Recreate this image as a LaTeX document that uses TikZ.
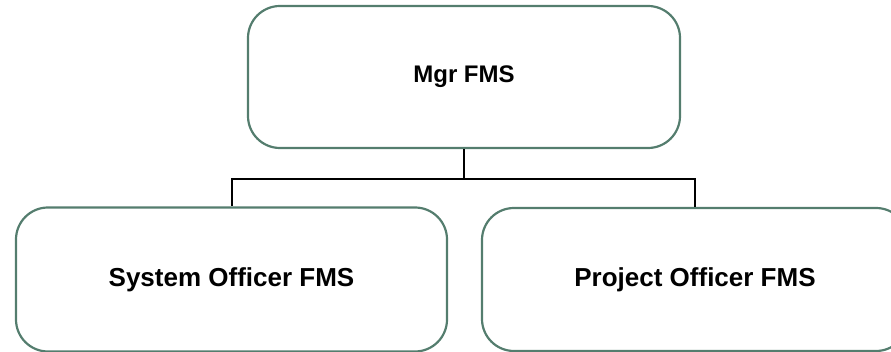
\documentclass[tikz,border=0pt]{standalone}
\usepackage{fontspec}
\setmainfont{Liberation Sans}
\definecolor{boxline}{RGB}{84,125,110}
\begin{document}
\begin{tikzpicture}[x=1pt, y=-1pt,
    unit/.style={rectangle, rounded corners=32pt, draw=boxline, line width=2.2pt,
        font=\fontsize{24}{28}\selectfont\bfseries, inner sep=0pt},
    subunit/.style={unit, font=\fontsize{26}{30}\selectfont\bfseries},
    link/.style={draw=black, line width=2pt}]
        \clip (0,0) rectangle (891,352);
        \useasboundingbox (0,0) rectangle (891,352);
        % Define boxes
        \node[unit, minimum width=432pt, minimum height=142pt] (mgr) at (464,77) {Mgr FMS};
        \node[subunit, minimum width=431pt, minimum height=144pt] (sys) at (231.5,279.5) {System Officer FMS};
        \node[subunit, minimum width=426pt, minimum height=143pt] (proj) at (695,279.5) {Project Officer FMS};
        
        % Draw links
        \draw[link] (mgr.south) -- ++(0,30) coordinate (split) -| (sys.north);
        \draw[link] (split) -| (proj.north);
\end{tikzpicture}
\end{document}
